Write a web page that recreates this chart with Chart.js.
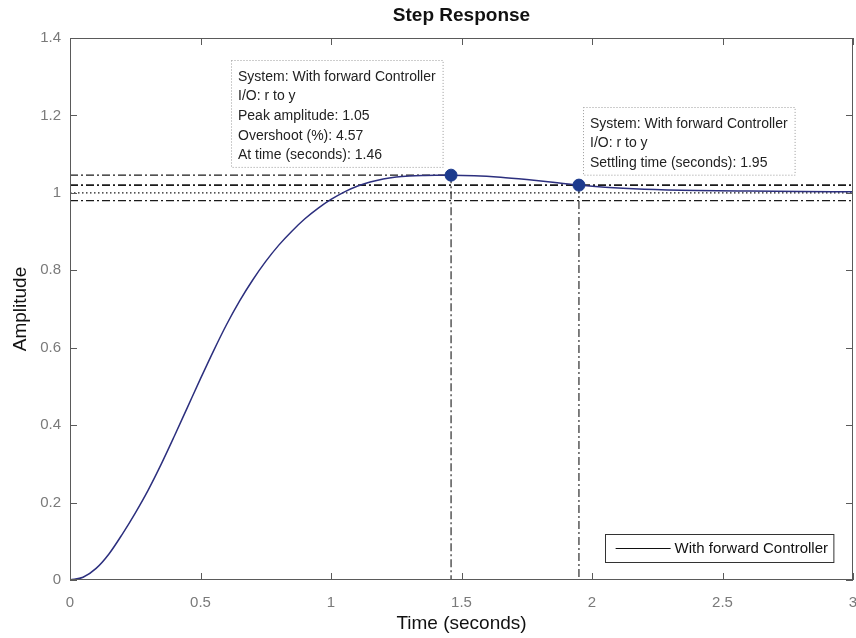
<!DOCTYPE html>
<html>
<head>
<meta charset="utf-8">
<title>Step Response</title>
<script src="https://cdn.jsdelivr.net/npm/chart.js@4/dist/chart.umd.min.js"></script>
<style>
  html, body { margin: 0; padding: 0; background: #ffffff; overflow: hidden; }
  canvas { display: block; }
</style>
</head>
<body>
<canvas id="stepChart" width="856" height="638"></canvas>
<script>
// Step response of the closed loop with the forward controller
const timeSec = [0, 0.05, 0.1, 0.15, 0.2, 0.25, 0.3, 0.35, 0.4, 0.45, 0.5, 0.55, 0.6, 0.65, 0.7, 0.75,
  0.8, 0.85, 0.9, 0.95, 1.0, 1.05, 1.1, 1.15, 1.2, 1.25, 1.3, 1.35, 1.4, 1.46, 1.55, 1.65, 1.75,
  1.85, 1.95, 2.05, 2.2, 2.4, 2.6, 2.8, 3.0];
const amplitude = [0, 0.007, 0.03, 0.068, 0.118, 0.173, 0.233, 0.3, 0.372, 0.446, 0.52, 0.592, 0.66,
  0.721, 0.775, 0.823, 0.865, 0.901, 0.933, 0.96, 0.983, 1.002, 1.017, 1.028, 1.036, 1.041, 1.0437,
  1.0451, 1.0456, 1.0457, 1.0445, 1.0405, 1.0345, 1.0275, 1.02, 1.0145, 1.0095, 1.006, 1.0045,
  1.0035, 1.003];

// Response characteristics: [time, amplitude]
const peakPoint = [1.46, 1.0457];
const settlingPoint = [1.95, 1.02];
const finalValue = [1.0];
const settlingBand = [0.98, 1.02];
const overshootPct = [4.57];

// Axis ticks
const xTicks = [0, 0.5, 1, 1.5, 2, 2.5, 3];
const xTickLabels = ['0', '0.5', '1', '1.5', '2', '2.5', '3'];
const yTicks = [0, 0.2, 0.4, 0.6, 0.8, 1, 1.2, 1.4];
const yTickLabels = ['0', '0.2', '0.4', '0.6', '0.8', '1', '1.2', '1.4'];

const FONT = "'Liberation Sans', Arial, Helvetica, sans-serif";
const DASH_DOT = [8, 3, 2, 3];
const xMax = xTicks[xTicks.length - 1];

const seriesLabel = 'With forward Controller';
const curve = timeSec.map((t, i) => ({ x: t, y: amplitude[i] }));

function refLine(points, dash, width) {
  return {
    label: '', data: points, borderColor: '#1a1a1a', borderWidth: width,
    borderDash: dash, pointRadius: 0, fill: false, order: 5, tension: 0
  };
}

// Axes frame with inward ticks on all four sides
const framePlugin = {
  id: 'frame',
  afterDraw(chart) {
    const { ctx, chartArea: a, scales: { x, y } } = chart;
    ctx.save();
    ctx.strokeStyle = '#5a5a5a';
    ctx.lineWidth = 1;
    ctx.strokeRect(a.left + 0.5, a.top + 0.5, a.right - a.left - 1, a.bottom - a.top - 1);
    const tl = 7;
    ctx.beginPath();
    xTicks.forEach(v => {
      const px = Math.round(x.getPixelForValue(v)) + 0.5;
      ctx.moveTo(px, a.bottom); ctx.lineTo(px, a.bottom - tl);
      ctx.moveTo(px, a.top); ctx.lineTo(px, a.top + tl);
    });
    yTicks.forEach(v => {
      const py = Math.round(y.getPixelForValue(v)) + 0.5;
      ctx.moveTo(a.left, py); ctx.lineTo(a.left + tl, py);
      ctx.moveTo(a.right, py); ctx.lineTo(a.right - tl, py);
    });
    ctx.stroke();
    ctx.restore();
  }
};

// Data tips describing the peak and the settling time
const dataTipPlugin = {
  id: 'dataTips',
  afterDraw(chart) {
    const { ctx, chartArea: a } = chart;
    const tips = [
      { dx: 161, dy: 22, lines: [
        'System: ' + seriesLabel,
        'I/O: r to y',
        'Peak amplitude: ' + peakPoint[1].toFixed(2),
        'Overshoot (%): ' + overshootPct[0].toFixed(2),
        'At time (seconds): ' + peakPoint[0].toFixed(2)
      ] },
      { dx: 513, dy: 69, lines: [
        'System: ' + seriesLabel,
        'I/O: r to y',
        'Settling time (seconds): ' + settlingPoint[0].toFixed(2)
      ] }
    ];
    ctx.save();
    ctx.font = '14px ' + FONT;
    ctx.textBaseline = 'middle';
    ctx.textAlign = 'left';
    const lh = 19.6, padX = 7, firstOff = 17, padBottom = 11.5;
    tips.forEach(tip => {
      const w = Math.max(...tip.lines.map(s => ctx.measureText(s).width)) + 2 * padX;
      const h = firstOff + (tip.lines.length - 1) * lh + padBottom;
      const bx = a.left + tip.dx, by = a.top + tip.dy;
      ctx.fillStyle = '#ffffff';
      ctx.fillRect(bx, by, w, h);
      ctx.setLineDash([1, 2]);
      ctx.strokeStyle = '#9a9a9a';
      ctx.lineWidth = 1;
      ctx.strokeRect(bx + 0.5, by + 0.5, w, h);
      ctx.setLineDash([]);
      ctx.fillStyle = '#222222';
      tip.lines.forEach((s, i) => ctx.fillText(s, bx + padX, by + firstOff + i * lh));
    });
    ctx.restore();
  }
};

// Legend box in the lower right corner of the axes
const legendBoxPlugin = {
  id: 'legendBox',
  afterDraw(chart) {
    const { ctx, chartArea: a } = chart;
    ctx.save();
    ctx.font = '15px ' + FONT;
    const tw = ctx.measureText(seriesLabel).width;
    const w = 11 + 55 + 4 + tw + 5, h = 28;
    const bx = a.right - 20 - w, by = a.bottom - 18 - h;
    ctx.fillStyle = '#ffffff';
    ctx.fillRect(bx, by, w, h);
    ctx.strokeStyle = '#333333';
    ctx.lineWidth = 1;
    ctx.strokeRect(Math.round(bx) + 0.5, by + 0.5, w, h);
    ctx.beginPath();
    ctx.moveTo(bx + 11, by + h / 2 + 0.5);
    ctx.lineTo(bx + 66, by + h / 2 + 0.5);
    ctx.strokeStyle = '#111111';
    ctx.lineWidth = 1.2;
    ctx.stroke();
    ctx.fillStyle = '#111111';
    ctx.textBaseline = 'middle';
    ctx.fillText(seriesLabel, bx + 70, by + h / 2 + 1);
    ctx.restore();
  }
};

new Chart(document.getElementById('stepChart'), {
  type: 'line',
  data: {
    datasets: [
      {
        label: seriesLabel, data: curve, borderColor: '#2c2f7e', borderWidth: 1.5,
        pointRadius: 0, cubicInterpolationMode: 'monotone', fill: false, order: 1
      },
      {
        label: 'markers',
        data: [{ x: peakPoint[0], y: peakPoint[1] }, { x: settlingPoint[0], y: settlingPoint[1] }],
        showLine: false, pointRadius: 6, pointBackgroundColor: '#1d3b8e',
        pointBorderColor: '#1d3b8e', order: 0
      },
      refLine([{ x: 0, y: peakPoint[1] }, { x: peakPoint[0], y: peakPoint[1] }], DASH_DOT, 1.1),
      refLine([{ x: peakPoint[0], y: peakPoint[1] }, { x: peakPoint[0], y: 0 }], DASH_DOT, 1.1),
      refLine([{ x: 0, y: settlingBand[1] }, { x: xMax, y: settlingBand[1] }], DASH_DOT, 1.6),
      refLine([{ x: 0, y: settlingBand[0] }, { x: xMax, y: settlingBand[0] }], DASH_DOT, 1.4),
      refLine([{ x: settlingPoint[0], y: settlingPoint[1] }, { x: settlingPoint[0], y: 0 }], DASH_DOT, 1.1),
      refLine([{ x: 0, y: finalValue[0] }, { x: xMax, y: finalValue[0] }], [1.5, 2.5], 1.2)
    ]
  },
  options: {
    responsive: false,
    animation: false,
    events: [],
    layout: { autoPadding: false, padding: { left: 0, right: 3, top: 0, bottom: 0 } },
    plugins: {
      legend: { display: false },
      tooltip: { enabled: false },
      title: {
        display: true, text: 'Step Response', fullSize: false, color: '#111111',
        font: { family: FONT, size: 19, weight: 'bold' },
        padding: { top: 4, bottom: 11.2 }
      }
    },
    scales: {
      x: {
        type: 'linear', min: xTicks[0], max: xMax,
        grid: { display: false, drawTicks: false }, border: { display: false },
        afterBuildTicks: s => { s.ticks = xTicks.map(v => ({ value: v })); },
        afterFit: s => { s.height = 58; s.paddingLeft = 0; s.paddingRight = 0; },
        ticks: {
          autoSkip: false, maxRotation: 0, padding: 14, color: '#7a7a7a',
          font: { family: FONT, size: 15 },
          callback: (v, i) => xTickLabels[i]
        },
        title: {
          display: true, text: 'Time (seconds)', color: '#111111',
          font: { family: FONT, size: 19 }, padding: { top: 0, bottom: 3 }
        }
      },
      y: {
        type: 'linear', min: yTicks[0], max: yTicks[yTicks.length - 1],
        grid: { display: false, drawTicks: false }, border: { display: false },
        afterBuildTicks: s => { s.ticks = yTicks.map(v => ({ value: v })); },
        afterFit: s => { s.width = 70; s.paddingTop = 0; s.paddingBottom = 0; },
        ticks: {
          autoSkip: false, padding: 9, color: '#7a7a7a',
          font: { family: FONT, size: 15 },
          callback: (v, i) => yTickLabels[i]
        },
        title: {
          display: true, text: 'Amplitude', color: '#111111',
          font: { family: FONT, size: 19 }, padding: { top: 9, bottom: 0 }
        }
      }
    }
  },
  plugins: [framePlugin, dataTipPlugin, legendBoxPlugin]
});
</script>
</body>
</html>
